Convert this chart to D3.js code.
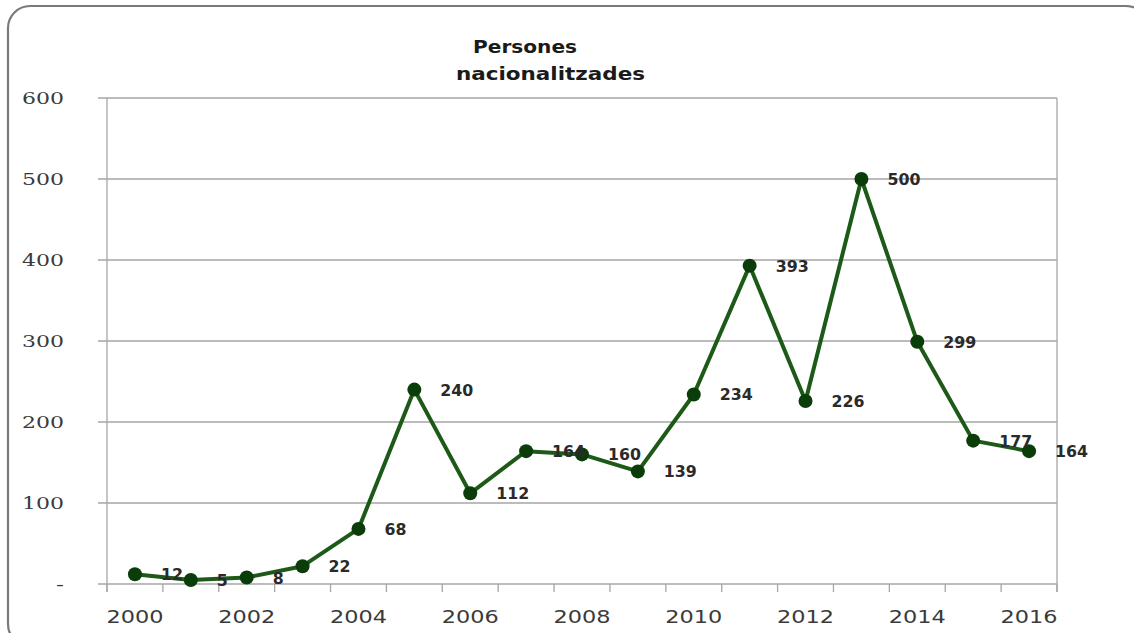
<!DOCTYPE html>
<html>
<head>
<meta charset="utf-8">
<script src="https://cdn.jsdelivr.net/npm/d3@7"></script>
<style>
  body { margin: 0; background: #fff; }
  svg { display: block; }
</style>
</head>
<body>
<script>
var width = 1134;
var height = 633;

// data
var years = [2000, 2001, 2002, 2003, 2004, 2005, 2006, 2007, 2008,
             2009, 2010, 2011, 2012, 2013, 2014, 2015, 2016];
var persons = [12, 5, 8, 22, 68, 240, 112, 164, 160,
               139, 234, 393, 226, 500, 299, 177, 164];
var yTicks = [0, 100, 200, 300, 400, 500, 600];
var xLabelYears = [2000, 2002, 2004, 2006, 2008, 2010, 2012, 2014, 2016];
var titleLines = ['Persones', 'nacionalitzades'];

var svg = d3.select('body')
    .append('svg')
    .attr('width', width)
    .attr('height', height);

// rounded frame
svg.append('rect')
    .attr('x', 8).attr('y', 6)
    .attr('width', 1140).attr('height', 640)
    .attr('rx', 22).attr('ry', 22)
    .attr('fill', '#fff')
    .attr('stroke', '#7a7a7a')
    .attr('stroke-width', 2.2);

var x = d3.scaleBand()
    .domain(years)
    .range([107, 1057])
    .padding(0);

var y = d3.scaleLinear()
    .domain([0, 600])
    .range([584, 98]);

// gridlines
svg.append('g')
    .selectAll('line')
    .data(yTicks)
    .enter()
    .append('line')
    .attr('x1', 98)
    .attr('x2', 1057)
    .attr('y1', d => y(d))
    .attr('y2', d => y(d))
    .attr('stroke', '#a6a6a6')
    .attr('stroke-width', 1.3);

// right edge of plot area
svg.append('line')
    .attr('x1', 1057).attr('x2', 1057)
    .attr('y1', y(600)).attr('y2', 592)
    .attr('stroke', '#a6a6a6')
    .attr('stroke-width', 1.3);

// left axis line
svg.append('line')
    .attr('x1', 107).attr('x2', 107)
    .attr('y1', y(600)).attr('y2', 592)
    .attr('stroke', '#a6a6a6')
    .attr('stroke-width', 1.3);

// x ticks between categories
var bounds = years.map(d => x(d)).concat([x.range()[1]]);
svg.append('g')
    .selectAll('line')
    .data(bounds)
    .enter()
    .append('line')
    .attr('x1', d => d).attr('x2', d => d)
    .attr('y1', 584).attr('y2', 592)
    .attr('stroke', '#a6a6a6')
    .attr('stroke-width', 1.3);

// y labels
svg.append('g')
    .selectAll('text')
    .data(yTicks)
    .enter()
    .append('text')
    .attr('x', 64)
    .attr('y', d => y(d) + 6)
    .attr('text-anchor', 'end')
    .attr('font-family', 'DejaVu Serif')
    .attr('font-size', 17)
    .attr('fill', '#3a3a3a')
    .attr('textLength', d => d === 0 ? 8 : 42)
    .attr('lengthAdjust', 'spacingAndGlyphs')
    .text(d => d === 0 ? '-' : d);

// x labels
svg.append('g')
    .selectAll('text')
    .data(xLabelYears)
    .enter()
    .append('text')
    .attr('x', d => x(d) + x.bandwidth() / 2)
    .attr('y', 623)
    .attr('text-anchor', 'middle')
    .attr('font-family', 'DejaVu Sans')
    .attr('font-size', 18)
    .attr('fill', '#3a3a3a')
    .attr('textLength', 57)
    .attr('lengthAdjust', 'spacingAndGlyphs')
    .text(d => d);

// title
svg.append('text')
    .attr('x', 473).attr('y', 53)
    .attr('font-family', 'DejaVu Sans')
    .attr('font-weight', 'bold')
    .attr('font-size', 17)
    .attr('fill', '#1a1a1a')
    .attr('textLength', 104)
    .attr('lengthAdjust', 'spacingAndGlyphs')
    .text(titleLines[0]);
svg.append('text')
    .attr('x', 456).attr('y', 80)
    .attr('font-family', 'DejaVu Sans')
    .attr('font-weight', 'bold')
    .attr('font-size', 17)
    .attr('fill', '#1a1a1a')
    .attr('textLength', 189)
    .attr('lengthAdjust', 'spacingAndGlyphs')
    .text(titleLines[1]);

var pts = years.map((d, i) => ({year: d, value: persons[i]}));
var cx = d => x(d.year) + x.bandwidth() / 2;

var line = d3.line()
    .x(cx)
    .y(d => y(d.value));

svg.append('path')
    .datum(pts)
    .attr('d', line)
    .attr('fill', 'none')
    .attr('stroke', '#1d5a18')
    .attr('stroke-width', 4)
    .attr('stroke-linejoin', 'round');

svg.append('g')
    .selectAll('circle')
    .data(pts)
    .enter()
    .append('circle')
    .attr('cx', cx)
    .attr('cy', d => y(d.value))
    .attr('r', 7)
    .attr('fill', '#0b3d0b');

// data labels
svg.append('g')
    .selectAll('text')
    .data(pts)
    .enter()
    .append('text')
    .attr('x', d => cx(d) + 26)
    .attr('y', d => y(d.value) + 6)
    .attr('font-family', 'DejaVu Sans')
    .attr('font-weight', 'bold')
    .attr('font-size', 15)
    .attr('fill', '#2a2a2a')
    .attr('textLength', d => String(d.value).length * 11)
    .attr('lengthAdjust', 'spacingAndGlyphs')
    .text(d => d.value);
</script>
</body>
</html>
